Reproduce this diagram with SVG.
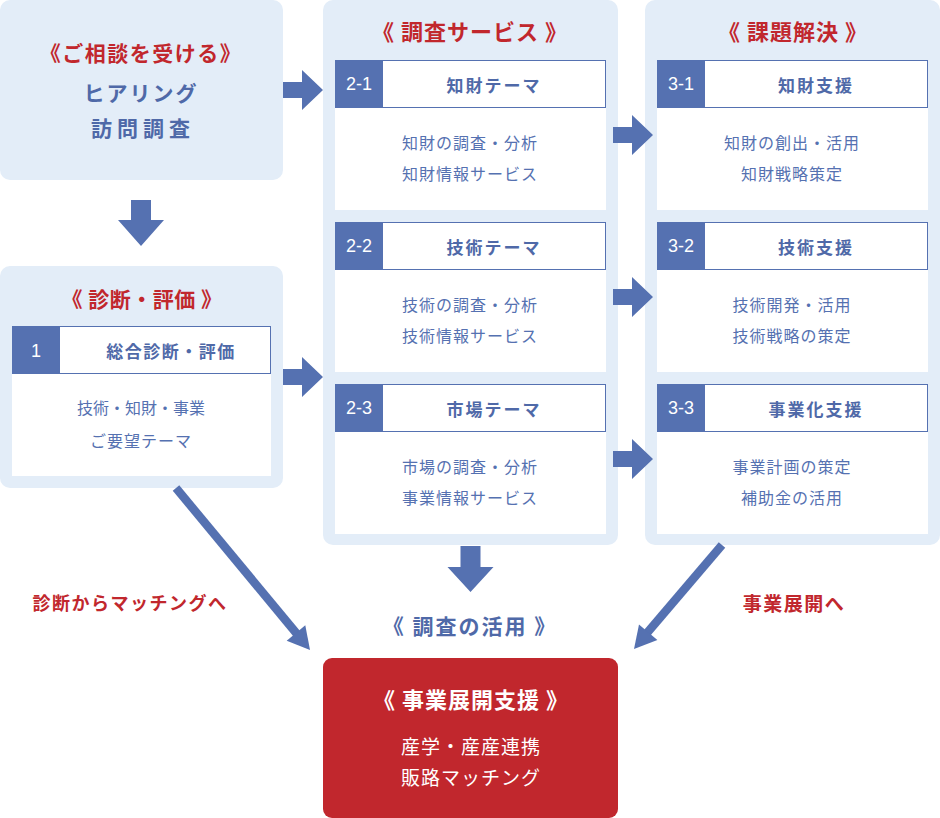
<svg xmlns="http://www.w3.org/2000/svg" width="940" height="818" viewBox="0 0 940 818">
<style>
text{font-family:"Noto Sans CJK JP","Noto Sans",sans-serif;text-anchor:middle;dominant-baseline:central}
.panel{fill:#e3edf8}
.hdr{fill:#fff;stroke:#5571b1;stroke-width:1}
.badge{fill:#5571b1}
.body{fill:#fff}
.arrow{fill:#5571b1}
.line{stroke:#5571b1;stroke-width:8.5;fill:none}
.title{fill:#c1272d;font-weight:700;font-size:22px;letter-spacing:1px}
.big{fill:#4f69a8;font-weight:700;font-size:21px}
.head{fill:#4f69a8;font-weight:700;font-size:17px;letter-spacing:2px}
.txt{fill:#5571b1;font-size:16px;letter-spacing:1px}
.num{fill:#fff;font-family:"Liberation Sans",Arial,sans-serif;font-size:18px}
.lbl{fill:#c1272d;font-weight:700;font-size:18px;letter-spacing:1.5px}
.wt{fill:#fff;font-weight:700;font-size:22px;letter-spacing:1px}
.wb{fill:#fff;font-size:19px;letter-spacing:1px}
</style>

<g id="consult">
<rect class="panel" x="0" y="0" width="283" height="180" rx="10"/>
<text class="title" x="141" y="52" style="font-size:21px;letter-spacing:1.5px">《ご相談を受ける》</text>
<text class="big" x="141" y="92" style="letter-spacing:2px">ヒアリング</text>
<text class="big" x="143" y="127" style="letter-spacing:5px">訪問調査</text>
</g>

<g id="diagnosis">
<rect class="panel" x="0" y="266" width="283" height="222" rx="10"/>
<text class="title" x="142" y="298" style="font-size:21px;letter-spacing:0.5px">《 診断・評価 》</text>
<rect class="hdr" x="12.5" y="326.5" width="258" height="47"/>
<rect class="badge" x="12" y="326" width="48" height="48"/>
<text class="num" x="36" y="351">1</text>
<text class="head" x="171" y="350" style="letter-spacing:1.5px">総合診断・評価</text>
<rect class="body" x="12" y="374" width="259" height="102"/>
<text class="txt" x="141" y="407" style="letter-spacing:0px">技術・知財・事業</text>
<text class="txt" x="141" y="440">ご要望テーマ</text>
</g>

<g id="survey">
<rect class="panel" x="323" y="0" width="295" height="545" rx="10"/>
<text class="title" x="470" y="30">《 調査サービス 》</text>
<g id="survey-2-1">
<rect class="hdr" x="335.5" y="60.5" width="270" height="47"/>
<rect class="badge" x="335" y="60" width="48" height="48"/>
<text class="num" x="359" y="84">2-1</text>
<text class="head" x="494" y="84">知財テーマ</text>
<rect class="body" x="335" y="108" width="271" height="102"/>
<text class="txt" x="470" y="142">知財の調査・分析</text>
<text class="txt" x="470" y="173">知財情報サービス</text>
</g>
<g id="survey-2-2">
<rect class="hdr" x="335.5" y="222.5" width="270" height="47"/>
<rect class="badge" x="335" y="222" width="48" height="48"/>
<text class="num" x="359" y="246">2-2</text>
<text class="head" x="494" y="246">技術テーマ</text>
<rect class="body" x="335" y="270" width="271" height="102"/>
<text class="txt" x="470" y="304">技術の調査・分析</text>
<text class="txt" x="470" y="335">技術情報サービス</text>
</g>
<g id="survey-2-3">
<rect class="hdr" x="335.5" y="384.5" width="270" height="47"/>
<rect class="badge" x="335" y="384" width="48" height="48"/>
<text class="num" x="359" y="408">2-3</text>
<text class="head" x="494" y="408">市場テーマ</text>
<rect class="body" x="335" y="432" width="271" height="102"/>
<text class="txt" x="470" y="466">市場の調査・分析</text>
<text class="txt" x="470" y="497">事業情報サービス</text>
</g>
</g>

<g id="solution">
<rect class="panel" x="645" y="0" width="295" height="545" rx="10"/>
<text class="title" x="793" y="30">《 課題解決 》</text>
<g id="solution-3-1">
<rect class="hdr" x="657.5" y="60.5" width="270" height="47"/>
<rect class="badge" x="657" y="60" width="48" height="48"/>
<text class="num" x="681" y="84">3-1</text>
<text class="head" x="816" y="84">知財支援</text>
<rect class="body" x="657" y="108" width="271" height="102"/>
<text class="txt" x="792" y="142">知財の創出・活用</text>
<text class="txt" x="792" y="173">知財戦略策定</text>
</g>
<g id="solution-3-2">
<rect class="hdr" x="657.5" y="222.5" width="270" height="47"/>
<rect class="badge" x="657" y="222" width="48" height="48"/>
<text class="num" x="681" y="246">3-2</text>
<text class="head" x="816" y="246">技術支援</text>
<rect class="body" x="657" y="270" width="271" height="102"/>
<text class="txt" x="792" y="304">技術開発・活用</text>
<text class="txt" x="792" y="335">技術戦略の策定</text>
</g>
<g id="solution-3-3">
<rect class="hdr" x="657.5" y="384.5" width="270" height="47"/>
<rect class="badge" x="657" y="384" width="48" height="48"/>
<text class="num" x="681" y="408">3-3</text>
<text class="head" x="816" y="408">事業化支援</text>
<rect class="body" x="657" y="432" width="271" height="102"/>
<text class="txt" x="792" y="466">事業計画の策定</text>
<text class="txt" x="792" y="497">補助金の活用</text>
</g>
</g>

<g id="support">
<rect x="323" y="658" width="295" height="160" rx="9" fill="#c1272d"/>
<text class="wt" x="471" y="698">《 事業展開支援 》</text>
<text class="wb" x="471" y="745">産学・産産連携</text>
<text class="wb" x="471" y="776">販路マッチング</text>
</g>

<g id="connectors">
<path class="arrow" d="M283 82H302V70L323 90L302 110V98H283Z"/>
<path class="arrow" d="M283 369H302V357L323 377L302 397V385H283Z"/>
<path class="arrow" d="M613 127H632V115L653 135L632 155V143H613Z"/>
<path class="arrow" d="M613 289H632V277L653 297L632 317V305H613Z"/>
<path class="arrow" d="M613 451H632V439L653 459L632 479V467H613Z"/>
<path class="arrow" d="M131 200H151V220H164L141 246L118 220H131Z"/>
<path class="arrow" d="M460.5 546H480.5V567H493.5L470.5 592L447.5 567H460.5Z"/>
<line class="line" x1="176" y1="488" x2="297" y2="634"/>
<path class="arrow" d="M310 650L286.7 640.7L305.3 625.3Z"/>
<line class="line" x1="722" y1="545" x2="647" y2="633"/>
<path class="arrow" d="M634 649L639 624.5L657.4 640Z"/>
</g>

<g id="labels">
<text class="big" x="470" y="625" style="letter-spacing:2px">《 調査の活用 》</text>
<text class="lbl" x="130" y="602">診断からマッチングへ</text>
<text class="lbl" x="794" y="602" style="font-size:19px">事業展開へ</text>
</g>
</svg>
